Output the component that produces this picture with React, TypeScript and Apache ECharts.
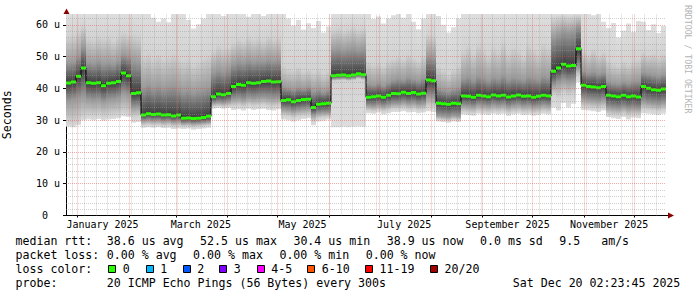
import React, { useEffect, useRef } from 'react';
import * as echarts from 'echarts';

const MONO = '"DejaVu Sans Mono", monospace';
const DAY = 86400000;
const START = Date.UTC(2024, 11, 25, 2, 23, 45);
const END = START + 360 * DAY;
const STEP = 3 * DAY;

// median RTT per 3-day step (microseconds)
const median = [
  41.7, 42.0, 43.8, 46.4, 41.8, 41.6, 41.8, 40.8, 41.6, 41.8, 42.2, 44.8, 44.0,
  38.4, 38.6,
  31.6, 32.0, 31.8, 31.9, 31.6, 31.7, 31.3, 31.6,
  30.6, 30.7, 30.5, 30.6, 30.8, 31.2,
  37.4, 38.2, 38.0, 38.4,
  40.6, 41.2, 41.0, 41.8, 41.6, 41.8, 42.2, 42.3, 42.0, 42.1,
  36.2, 36.4, 35.8, 36.2, 36.5, 36.6,
  34.0, 35.0, 35.2, 35.3,
  44.0, 44.1, 44.2, 44.0, 44.2, 44.6, 44.3,
  37.2, 37.4, 37.6, 37.2, 37.8, 38.4,
  38.3, 38.8, 38.4, 38.7, 38.2, 38.5,
  42.6, 42.4,
  35.3, 35.2, 35.0, 35.3, 35.2,
  37.6, 37.5, 37.2, 37.8, 37.6, 37.4, 37.9, 37.6, 37.8, 37.3, 37.6, 37.9, 37.5, 37.6, 37.2, 37.5, 37.8, 37.6,
  45.4, 46.4, 47.6, 47.0, 47.2, 52.5,
  41.0, 40.6, 40.4, 40.2, 40.6,
  37.8, 37.6, 37.4, 37.8, 37.4, 37.6, 37.3,
  40.6, 40.0, 39.6, 39.4, 39.8,
];
// slowest ping of the step
const pMax = [
  63.4, 63.4, 63.4, 63.4, 63.4, 63.4, 63.4, 63.4, 63.4, 63.4, 63.4, 63.4, 63.4,
  63.4, 63.4,
  63.4, 63.4, 62.2, 61.0, 62.0, 60.8, 63.4, 63.4,
  63.4, 61.5, 58.8, 60.2, 62.0, 63.4,
  63.4, 63.4, 62.8, 63.4,
  63.4, 63.4, 63.4, 62.5, 63.4, 63.4, 62.8, 63.4, 63.4, 63.4,
  63.4, 62.0, 59.8, 61.5, 58.5, 60.5,
  59.0, 61.2, 57.6, 59.5,
  63.4, 63.4, 63.4, 63.4, 63.4, 63.4, 63.4,
  63.4, 61.8, 62.6, 60.4, 62.0, 63.0,
  63.4, 62.2, 63.4, 61.0, 58.6, 62.0,
  63.4, 63.4,
  62.8, 60.0, 57.6, 59.2, 62.0,
  63.4, 63.4, 63.4, 63.4, 63.4, 63.4, 63.4, 63.4, 63.4, 63.4, 63.4, 63.4, 63.4, 63.4, 63.4, 63.4, 63.4, 63.4,
  63.4, 63.4, 63.4, 63.4, 63.4, 63.4,
  63.4, 63.4, 63.0, 63.4, 61.0,
  59.0, 60.6, 56.0, 58.2, 60.4, 57.8, 61.2,
  61.0, 58.4, 60.2, 57.4, 59.6,
];
// 19th of 20 pings
const pHi2 = [
  56.5, 56.8, 58.0, 59.5, 56.0, 55.5, 56.4, 55.8, 56.2, 55.0, 56.5, 57.5, 57.0,
  57.0, 56.5,
  50.5, 51.2, 49.6, 50.8, 49.5, 50.2, 51.0, 49.8,
  48.8, 49.5, 47.8, 48.6, 49.8, 50.5,
  52.0, 53.5, 52.6, 53.0,
  54.5, 55.5, 55.0, 56.2, 55.4, 56.0, 55.2, 56.5, 55.8, 56.0,
  47.0, 46.2, 45.8, 46.8, 45.4, 46.0,
  45.2, 46.0, 44.8, 45.6,
  58.6, 59.0, 58.2, 58.8, 59.4, 58.5, 59.0,
  48.5, 47.6, 48.2, 47.2, 48.8, 49.5,
  50.2, 49.4, 50.8, 49.6, 48.8, 50.4,
  57.0, 56.5,
  47.0, 45.8, 44.6, 46.2, 47.4,
  52.0, 53.5, 51.2, 54.0, 52.4, 50.8, 53.2, 52.0, 54.6, 51.6, 53.0, 52.2, 50.6, 53.8, 52.6, 51.4, 54.2, 53.0,
  62.0, 62.5, 62.8, 62.4, 62.6, 63.0,
  52.0, 51.0, 52.4, 50.6, 51.5,
  49.0, 48.0, 47.4, 48.6, 47.8, 48.8, 49.2,
  51.4, 50.6, 51.0, 50.2, 50.8,
];
// 16th of 20 pings
const pHi = [
  48.0, 48.4, 50.0, 53.0, 48.2, 47.8, 48.5, 47.6, 48.0, 47.5, 48.6, 50.5, 50.0,
  48.5, 48.0,
  40.2, 41.0, 40.0, 40.6, 39.8, 40.4, 40.8, 40.0,
  39.0, 39.5, 38.6, 39.2, 39.6, 40.2,
  45.0, 45.8, 45.2, 46.0,
  47.6, 48.4, 48.0, 48.8, 48.2, 48.6, 48.4, 49.0, 48.6, 48.8,
  40.4, 40.0, 39.6, 40.2, 39.8, 40.4,
  39.0, 39.6, 38.8, 39.4,
  52.0, 52.4, 51.8, 52.2, 52.6, 52.0, 52.4,
  41.4, 41.0, 41.6, 40.8, 41.8, 42.6,
  43.0, 42.6, 43.4, 42.8, 42.4, 43.2,
  50.0, 49.6,
  40.0, 39.4, 39.0, 39.6, 40.2,
  43.0, 43.6, 42.6, 43.8, 43.2, 42.4, 43.4, 43.0, 44.0, 42.8, 43.4, 43.0, 42.6, 43.6, 43.2, 42.8, 43.8, 43.4,
  56.0, 57.0, 58.0, 57.6, 58.0, 59.5,
  45.4, 44.8, 45.2, 44.6, 45.0,
  42.2, 41.6, 41.4, 42.0, 41.6, 42.2, 42.4,
  45.0, 44.6, 44.2, 43.8, 44.4,
];
// 5th of 20 pings
const pLo = [
  36.0, 36.4, 37.0, 37.5, 36.5, 36.2, 36.5, 35.8, 36.4, 36.6, 37.0, 38.5, 38.0,
  34.0, 34.2,
  29.8, 30.0, 29.8, 29.9, 29.6, 29.8, 29.4, 29.6,
  29.0, 29.1, 28.9, 29.0, 29.2, 29.4,
  35.4, 35.6, 35.4, 35.8,
  36.6, 36.8, 36.4, 37.0, 36.8, 37.0, 37.2, 37.0, 36.8, 37.0,
  33.4, 33.2, 32.8, 33.2, 33.4, 33.6,
  31.6, 32.2, 32.4, 32.4,
  43.0, 43.1, 43.2, 43.0, 43.2, 43.6, 43.3,
  34.6, 34.4, 34.8, 34.4, 34.8, 35.2,
  35.2, 35.6, 35.2, 35.4, 35.0, 35.2,
  37.4, 37.2,
  31.4, 31.2, 31.0, 31.4, 31.2,
  34.6, 34.4, 34.2, 34.8, 34.6, 34.4, 34.8, 34.6, 34.8, 34.2, 34.6, 34.8, 34.4, 34.6, 34.2, 34.4, 34.8, 34.6,
  41.0, 42.0, 42.6, 42.2, 42.4, 46.5,
  36.8, 36.4, 36.2, 36.0, 36.4,
  34.0, 33.8, 33.6, 34.0, 33.6, 33.8, 33.6,
  35.8, 35.4, 35.2, 35.0, 35.4,
];
// 2nd of 20 pings
const pLo2 = [
  29.2, 29.0, 29.6, 31.0, 31.4, 31.2, 31.6, 31.0, 31.4, 31.6, 31.8, 32.4, 32.0,
  31.0, 31.2,
  28.4, 28.6, 28.4, 28.5, 28.2, 28.4, 28.0, 28.2,
  28.0, 28.1, 27.8, 28.0, 28.2, 28.4,
  34.2, 34.4, 34.2, 34.4,
  34.4, 34.6, 34.2, 34.8, 34.4, 34.6, 34.8, 34.4, 34.2, 34.6,
  31.4, 31.2, 30.8, 31.2, 31.4, 31.6,
  29.6, 30.6, 30.8, 31.0,
  42.4, 42.5, 42.6, 42.4, 42.6, 43.0, 42.7,
  33.0, 32.8, 33.2, 32.8, 33.2, 33.6,
  33.6, 33.8, 33.4, 33.6, 33.2, 33.4,
  34.2, 34.0,
  30.2, 30.0, 29.8, 30.2, 30.0,
  32.6, 32.4, 32.2, 32.8, 32.6, 32.4, 32.8, 32.6, 32.8, 32.2, 32.6, 32.8, 32.4, 32.6, 32.2, 32.4, 32.8, 32.6,
  38.0, 37.0, 38.4, 37.6, 38.2, 44.0,
  34.2, 34.0, 33.8, 33.6, 34.0,
  32.0, 31.6, 31.6, 32.0, 31.4, 31.8, 31.6,
  33.4, 33.2, 33.0, 32.8, 33.2,
];
// fastest ping of the step
const pMin = [
  28.0, 27.8, 28.4, 30.0, 30.2, 30.0, 30.4, 29.8, 30.2, 30.4, 30.6, 31.2, 31.0,
  29.2, 29.4,
  27.6, 27.8, 27.6, 27.8, 27.5, 27.6, 27.2, 27.4,
  27.2, 27.4, 27.0, 27.2, 27.4, 27.6,
  33.6, 33.8, 33.6, 33.8,
  33.2, 33.4, 33.0, 33.6, 33.2, 33.4, 33.6, 33.2, 33.0, 33.4,
  30.2, 30.0, 29.6, 30.0, 30.4, 30.6,
  28.4, 29.6, 29.8, 30.2,
  27.8, 27.8, 27.9, 27.8, 27.9, 28.0, 27.9,
  32.2, 32.0, 32.4, 31.8, 32.2, 32.6,
  32.6, 32.8, 32.4, 32.6, 32.2, 32.4,
  32.8, 32.6,
  29.6, 29.4, 29.2, 29.6, 29.4,
  31.8, 31.6, 31.4, 32.0, 31.8, 31.6, 32.0, 31.8, 32.0, 31.4, 31.8, 32.0, 31.6, 31.8, 31.4, 31.6, 32.0, 31.8,
  34.0, 33.0, 35.4, 34.0, 35.2, 42.0,
  33.2, 33.0, 32.8, 32.6, 33.0,
  31.0, 30.6, 30.4, 31.0, 30.2, 30.8, 30.6,
  32.2, 32.0, 31.8, 31.6, 32.0,
];

const yTicks = [0, 10, 20, 30, 40, 50, 60];
const xLabelDates = [
  Date.UTC(2025, 0, 16), Date.UTC(2025, 2, 16), Date.UTC(2025, 4, 16),
  Date.UTC(2025, 6, 16), Date.UTC(2025, 8, 16), Date.UTC(2025, 10, 16),
];
const xLabelTexts = ['January 2025', 'March 2025', 'May 2025', 'July 2025', 'September 2025', 'November 2025'];
const monthStarts = [0, 1, 2, 3, 4, 5, 6, 7, 8, 9, 10, 11].map((m) => Date.UTC(2025, m, 1));

const lossLabels = ['0', '1', '2', '3', '4-5', '6-10', '11-19', '20/20'];
const lossColors = ['#26ff00', '#00b8ff', '#0059ff', '#7e00ff', '#ff00ff', '#ff5500', '#ff0000', '#a10000'];

const row1 = [
  ['median rtt:', 15.5], ['38.6 us avg', 106.8], ['52.5 us max', 200.1], ['30.4 us min', 293.4],
  ['38.9 us now', 386.7], ['0.0 ms sd', 480.0], ['9.5   am/s', 559.3],
];
const row2 = [
  ['packet loss:', 15.5], ['0.00 % avg', 106.8], ['0.00 % max', 193.1], ['0.00 % min', 279.4], ['0.00 % now', 365.7],
];
const row4 = [
  ['probe:', 15.5], ['20 ICMP Echo Pings (56 Bytes) every 300s', 106.8], ['Sat Dec 20 02:23:45 2025', 512.8],
];
const lossBoxX = [108.3, 145.7, 182.7, 219.3, 256.7, 307.3, 365, 430];

export default function App() {
  const ref = useRef<HTMLDivElement>(null);
  useEffect(() => {
    const el = ref.current;
    if (!el) return;
    const chart = echarts.init(el, undefined, { renderer: 'svg' });

    const smokeData = median.map((m, k) => [
      START + k * STEP, START + (k + 1) * STEP, pMin[k], pLo2[k], pLo[k], m, pHi[k], pHi2[k], pMax[k],
    ]);
    const medData = median.map((m, k) => [START + k * STEP, START + (k + 1) * STEP, m]);
    const stepData = median.map((m, k) => [START + k * STEP, m]);
    stepData.push([END, median[median.length - 1]]);

    const renderSmoke = (params: any, api: any) => {
      const t0 = api.value(0);
      const a = api.coord([t0, api.value(8)]);
      const b = api.coord([api.value(1), api.value(2)]);
      const yTop = a[1];
      const h = b[1] - yTop;
      const off = (v: number) => Math.min(1, Math.max(0, (api.coord([t0, v])[1] - yTop) / h));
      const stops = [
        { offset: 0, color: '#dedede' },
        { offset: off(api.value(7)), color: '#d2d2d2' },
        { offset: off(api.value(6)), color: '#9a9a9a' },
        { offset: off(api.value(5)), color: '#3c3c3c' },
        { offset: off(api.value(4)), color: '#9a9a9a' },
        { offset: off(api.value(3)), color: '#d2d2d2' },
        { offset: 1, color: '#dedede' },
      ];
      return {
        type: 'rect',
        shape: { x: a[0], y: yTop, width: b[0] - a[0], height: h },
        style: { fill: new echarts.graphic.LinearGradient(0, 0, 0, 1, stops) },
      };
    };
    const renderMedian = (params: any, api: any) => {
      const a = api.coord([api.value(0), api.value(2)]);
      const b = api.coord([api.value(1), api.value(2)]);
      return {
        type: 'rect',
        shape: { x: a[0], y: a[1] - 1.5, width: b[0] - a[0], height: 3 },
        style: { fill: '#26ff00' },
      };
    };

    const minorStyle = { color: 'rgba(150,150,150,0.45)', width: 1, type: [1, 1] };
    const majorStyle = { color: 'rgba(230,70,70,0.45)', width: 1, type: [1, 1] };
    const gridLines: any[] = [];
    for (let t = Date.UTC(2024, 11, 29); t < END; t += 7 * DAY) gridLines.push({ xAxis: t, lineStyle: minorStyle });
    for (let v = 2; v < 63.4; v += 2) if (v % 10 !== 0) gridLines.push({ yAxis: v, lineStyle: minorStyle });
    monthStarts.forEach((t) => gridLines.push({ xAxis: t, lineStyle: majorStyle }));
    yTicks.filter((v) => v > 0).forEach((v) => gridLines.push({ yAxis: v, lineStyle: majorStyle }));

    const textStyle = (text: string, x: number, y: number, size = 11.6) => ({
      type: 'text', x, y, silent: true,
      style: { text, fill: '#000', fontFamily: MONO, fontSize: size, align: 'left', verticalAlign: 'middle' },
    });
    const graphics: any[] = [];
    row1.forEach(([t, x]) => graphics.push(textStyle(t as string, x as number, 241)));
    row2.forEach(([t, x]) => graphics.push(textStyle(t as string, x as number, 255)));
    graphics.push(textStyle('loss color:', 15.5, 269));
    lossLabels.forEach((lab, i) => {
      graphics.push({
        type: 'rect', silent: true,
        shape: { x: Math.round(lossBoxX[i]) + 0.5, y: 265.5, width: 7, height: 7 },
        style: { fill: lossColors[i], stroke: '#000', lineWidth: 1 },
      });
      graphics.push(textStyle(lab, lossBoxX[i] + 14.5, 269));
    });
    row4.forEach(([t, x]) => graphics.push(textStyle(t as string, x as number, 283.3)));
    graphics.push({
      type: 'text', x: 688, y: 5, rotation: -Math.PI / 2, silent: true,
      style: { text: 'RRDTOOL / TOBI OETIKER', fill: '#b4b4b4', fontFamily: MONO, fontSize: 8.2, align: 'left', verticalAlign: 'middle' },
    });
    graphics.push({
      type: 'polygon', silent: true,
      shape: { points: [[63.5, 14], [69.5, 14], [66.5, 8.5]] },
      style: { fill: '#8b0000' },
    });
    graphics.push({
      type: 'line', silent: true,
      shape: { x1: 666, y1: 215.5, x2: 668, y2: 215.5 },
      style: { stroke: '#000', lineWidth: 1 },
    });
    graphics.push({
      type: 'polygon', silent: true,
      shape: { points: [[668, 212.5], [668, 218.5], [674, 215.5]] },
      style: { fill: '#8b0000' },
    });

    const option: any = {
      animation: false,
      backgroundColor: '#ffffff',
      grid: { left: 66, top: 14, width: 600, height: 201.5, containLabel: false, outerBoundsMode: 'none' },
      xAxis: {
        type: 'value', min: START, max: END,
        axisLine: { show: true, lineStyle: { color: '#000', width: 1 } },
        axisTick: { show: true, customValues: monthStarts, length: 2, lineStyle: { color: '#000' } },
        axisLabel: {
          customValues: xLabelDates,
          formatter: (v: number) => {
            const i = xLabelDates.indexOf(v);
            return i >= 0 ? xLabelTexts[i] : '';
          },
          fontFamily: MONO, fontSize: 10, color: '#000', margin: 4,
        },
        splitLine: { show: false },
      },
      yAxis: {
        type: 'value', min: 0, max: 63.4, interval: 10,
        name: 'Seconds', nameLocation: 'middle', nameGap: 53, nameRotate: 90,
        nameTextStyle: { fontFamily: MONO, fontSize: 11.6, color: '#000' },
        axisLine: { show: true, lineStyle: { color: '#000', width: 1 } },
        axisTick: { show: true, length: 3, customValues: yTicks, lineStyle: { color: '#000' } },
        axisLabel: {
          customValues: yTicks,
          formatter: (v: number) => (v === 0 ? '{z|0}' : v % 10 === 0 ? `${v} u` : ''),
          fontFamily: MONO, fontSize: 10, color: '#000', margin: 6,
          rich: { z: { fontFamily: MONO, fontSize: 10, color: '#000', padding: [0, 12, 0, 0] } },
        },
        splitLine: { show: false },
      },
      series: [
        {
          type: 'custom', name: 'smoke', renderItem: renderSmoke, data: smokeData,
          encode: { x: [0, 1], y: [2, 8] }, z: 2, silent: true, clip: true,
        },
        {
          type: 'line', name: 'step', data: stepData, step: 'end', symbol: 'none', showSymbol: false,
          lineStyle: { color: '#000', width: 1 }, z: 3, silent: true,
          markLine: {
            silent: true, symbol: ['none', 'none'], label: { show: false },
            emphasis: { disabled: true }, animation: false, data: gridLines,
          },
        },
        {
          type: 'custom', name: 'median', renderItem: renderMedian, data: medData,
          encode: { x: [0, 1], y: 2 }, z: 4, silent: true, clip: true,
        },
      ],
      graphic: graphics,
    };
    chart.setOption(option);
    return () => chart.dispose();
  }, []);
  return (
    <div
      ref={ref}
      style={{ position: 'fixed', left: 0, top: 0, width: 697, height: 297, background: '#fff' }}
    />
  );
}
